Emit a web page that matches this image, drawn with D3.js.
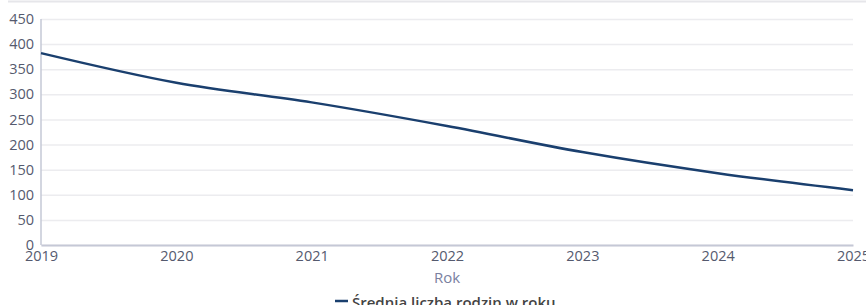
<!DOCTYPE html>
<html>
<head>
<meta charset="utf-8">
<script src="https://cdn.jsdelivr.net/npm/d3@7"></script>
<style>
  body { margin: 0; background: #fff; }
  svg { font-family: "Open Sans", sans-serif; }
</style>
</head>
<body>
<svg width="866" height="305"></svg>
<script>
const svg = d3.select('svg');
const width = +svg.attr('width');
const height = +svg.attr('height');

// data
const years = [2019, 2020, 2021, 2022, 2023, 2024, 2025];
const values = [382, 323, 284, 237, 185, 143, 109];
const yTicks = [0, 50, 100, 150, 200, 250, 300, 350, 400, 450];
const seriesName = "Średnia liczba rodzin w roku";
const xTitle = "Rok";

const fontFam = '"Open Sans", sans-serif';
const margin = { top: 19, right: 13, bottom: 60, left: 41 };
const innerWidth = width - margin.left - margin.right;
const innerHeight = height - margin.top - margin.bottom;

// thin line at the very top
svg.append('line')
    .attr('x1', 8).attr('x2', width)
    .attr('y1', 1.5).attr('y2', 1.5)
    .attr('stroke', '#e6e6ea')
    .attr('stroke-width', 2);

const g = svg.append('g')
    .attr('transform', `translate(${margin.left},${margin.top})`);

const xScale = d3.scaleLinear()
    .domain([2019, 2025])
    .range([0, innerWidth]);

const yScale = d3.scaleLinear()
    .domain([0, 450])
    .range([innerHeight, 0]);

// grid + y labels
const yAxis = d3.axisLeft(yScale)
    .tickValues(yTicks)
    .tickSize(-innerWidth)
    .tickPadding(7);
const yAxisG = g.append('g').call(yAxis)
    .attr('font-family', fontFam)
    .attr('font-size', 14.5);
yAxisG.select('.domain').remove();
yAxisG.selectAll('.tick line')
    .attr('stroke', '#ececef')
    .attr('stroke-width', 1.5);
yAxisG.selectAll('.tick text')
    .attr('fill', '#555a6e');

// y axis line
g.append('line')
    .attr('x1', 0).attr('x2', 0)
    .attr('y1', 0).attr('y2', innerHeight)
    .attr('stroke', '#c5c8d6')
    .attr('stroke-width', 1.5);

// x axis
const xAxis = d3.axisBottom(xScale)
    .tickValues(years)
    .tickFormat(d3.format('d'))
    .tickSize(0)
    .tickPadding(6);
const xAxisG = g.append('g')
    .attr('transform', `translate(0,${innerHeight})`)
    .call(xAxis)
    .attr('font-family', fontFam)
    .attr('font-size', 14.5);
xAxisG.select('.domain')
    .attr('stroke', '#c5c8d6')
    .attr('stroke-width', 2);
xAxisG.selectAll('.tick text')
    .attr('fill', '#555a6e');

// x axis title
g.append('text')
    .attr('x', innerWidth / 2)
    .attr('y', innerHeight + 38)
    .attr('text-anchor', 'middle')
    .attr('fill', '#7a80a0')
    .attr('font-size', 15)
    .text(xTitle);

// series line
const line = d3.line()
    .x((d, i) => xScale(years[i]))
    .y(d => yScale(d))
    .curve(d3.curveMonotoneX);

g.append('path')
    .datum(values)
    .attr('fill', 'none')
    .attr('stroke', '#1a3f6e')
    .attr('stroke-width', 2.5)
    .attr('d', line);

// legend
const legend = svg.append('g')
    .attr('transform', `translate(335,${height + 3})`);
legend.append('line')
    .attr('x1', 0).attr('x2', 13)
    .attr('y1', -7).attr('y2', -7)
    .attr('stroke', '#1a3f6e')
    .attr('stroke-width', 2.5);
legend.append('text')
    .attr('x', 17)
    .attr('y', 0)
    .attr('fill', '#444')
    .attr('font-size', 15)
    .attr('font-weight', 600)
    .text(seriesName);
</script>
</body>
</html>
